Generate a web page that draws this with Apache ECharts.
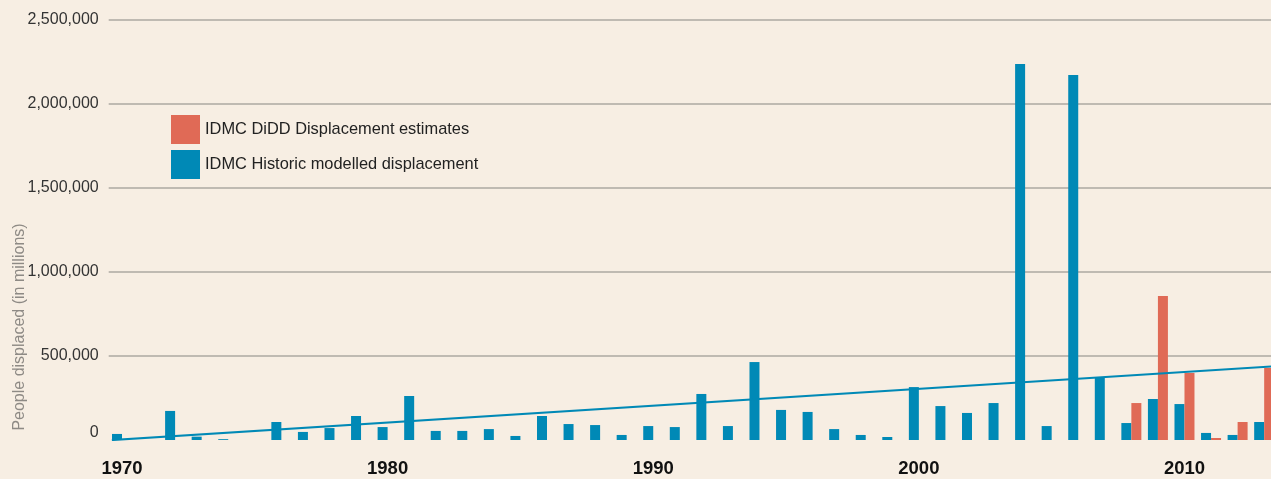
<!DOCTYPE html>
<html>
<head>
<meta charset="utf-8">
<script src="https://cdn.jsdelivr.net/npm/echarts@6/dist/echarts.min.js"></script>
<style>
  html, body { margin: 0; padding: 0; background: #F7EEE3; }
  #chart { width: 1271px; height: 479px; }
</style>
</head>
<body>
<div id="chart"></div>
<script>
const YEARS = ['1970','1971','1972','1973','1974','1975','1976','1977','1978','1979',
               '1980','1981','1982','1983','1984','1985','1986','1987','1988','1989',
               '1990','1991','1992','1993','1994','1995','1996','1997','1998','1999',
               '2000','2001','2002','2003','2004','2005','2006','2007','2008','2009',
               '2010','2011','2012','2013'];
const X_TICK_LABELS = ['1970','1980','1990','2000','2010'];
const HISTORIC = [36000, null, 173000, 20000, 5000, null, 107000, 48000, 71000, 143000,
                  77000, 262000, 54000, 54000, 65000, 24000, 143000, 95000, 89000, 30000,
                  83000, 77000, 274000, 83000, 464000, 179000, 167000, 65000, 30000, 18000,
                  315000, 202000, 161000, 220000, 2238000, 83000, 2173000, 369000, 101000, 244000,
                  214000, 42000, 30000, 107000];
const DIDD = [null, null, null, null, null, null, null, null, null, null,
              null, null, null, null, null, null, null, null, null, null,
              null, null, null, null, null, null, null, null, null, null,
              null, null, null, null, null, null, null, null, 220000, 857000,
              399000, 12000, 107000, 429000];
const TREND = [[1969.62, 0], [2013.5, 440000]];
const NAME_DIDD = 'IDMC DiDD Displacement estimates';
const NAME_HIST = 'IDMC Historic modelled displacement';

const BLUE = '#0089B6';
const RED = '#E06A56';

const chart = echarts.init(document.getElementById('chart'), null, {renderer: 'canvas'});
chart.setOption({
  backgroundColor: '#F7EEE3',
  animation: false,
  textStyle: { fontFamily: 'Liberation Sans, Arial, sans-serif' },
  grid: {
    left: 108.7, top: 20, width: 1168.75, height: 420,
    containLabel: false,
    outerBoundsMode: 'none'
  },
  legend: {
    data: [NAME_DIDD, NAME_HIST],
    orient: 'vertical',
    left: 171, top: 115,
    padding: 0,
    itemWidth: 29, itemHeight: 29, itemGap: 6,
    icon: 'rect',
    textStyle: { fontSize: 16.4, color: '#222', fontFamily: 'Liberation Sans, Arial, sans-serif' },
    selectedMode: false
  },
  xAxis: [{
    type: 'category',
    data: YEARS,
    axisLine: { show: false },
    axisTick: { show: false },
    axisLabel: {
      interval: 0,
      margin: 19,
      fontSize: 18.5,
      fontWeight: 'bold',
      color: '#111',
      fontFamily: 'Liberation Sans, Arial, sans-serif',
      formatter: function (v) { return X_TICK_LABELS.indexOf(v) >= 0 ? v : ''; }
    },
    splitLine: { show: false }
  }, {
    type: 'value',
    min: 1969.5, max: 2013.5,
    show: false
  }],
  yAxis: {
    type: 'value',
    min: 0, max: 2500000, interval: 500000,
    axisLine: { show: false },
    axisTick: { show: false },
    axisLabel: {
      margin: 10,
      fontSize: 16,
      color: '#333',
      formatter: function (v) { return v === 0 ? '{z|0}' : v.toLocaleString('en-US'); },
      rich: { z: { fontSize: 16, color: '#333', padding: [0, 0, 14, 0] } }
    },
    splitLine: {
      lineStyle: {
        color: ['rgba(0,0,0,0)', '#ADA9A2', '#ADA9A2', '#ADA9A2', '#ADA9A2', '#ADA9A2'],
        width: 1.5
      }
    }
  },
  graphic: [{
    type: 'text',
    x: 20, y: 327,
    rotation: Math.PI / 2,
    style: {
      text: 'People displaced (in millions)',
      fontSize: 16,
      fontFamily: 'Liberation Sans, Arial, sans-serif',
      fill: '#8E8A85',
      align: 'center',
      verticalAlign: 'middle'
    }
  }],
  series: [{
    name: NAME_HIST,
    type: 'bar',
    data: HISTORIC,
    barWidth: 10,
    barGap: '0%',
    itemStyle: { color: BLUE }
  }, {
    name: NAME_DIDD,
    type: 'bar',
    data: DIDD,
    barWidth: 10,
    barGap: '0%',
    itemStyle: { color: RED }
  }, {
    name: 'trend',
    type: 'line',
    xAxisIndex: 1,
    data: TREND,
    symbol: 'none',
    lineStyle: { color: BLUE, width: 2.2 },
    z: 5
  }]
});
</script>
</body>
</html>
